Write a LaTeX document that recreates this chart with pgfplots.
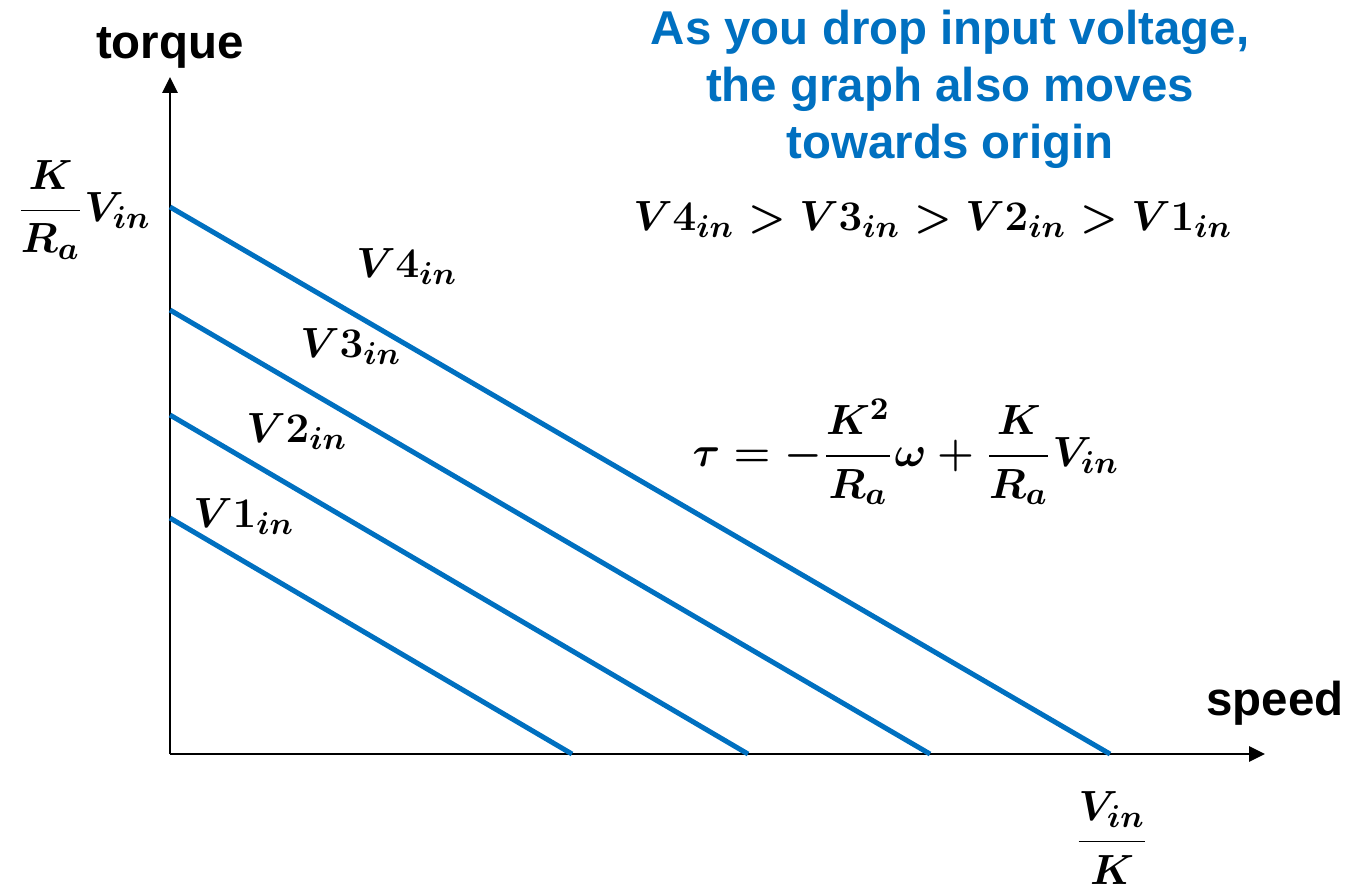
\documentclass[border=0pt]{standalone}
\usepackage[no-math]{fontspec}
\setmainfont{Liberation Sans}
\usepackage{pgfplots}
\pgfplotsset{compat=1.18}
\usetikzlibrary{arrows.meta}
\definecolor{lineblue}{RGB}{0,112,192}

\begin{document}
\begin{tikzpicture}[
  mathlbl/.style={inner sep=0pt, font=\fontsize{12.5}{15}\selectfont\boldmath},
  txtlbl/.style={inner sep=0pt, font=\fontsize{13.5}{16.2}\selectfont\bfseries},
]
\begin{axis}[
  x=0.1mm, y=0.1mm,
  xmin=0, xmax=1095, ymin=0, ymax=677,
  axis lines=left,
  ticks=none,
  clip=false,
  axis line style={line width=0.28mm, -{Triangle[length=1.6mm,width=1.5mm]}},
]
% page extent
\path (axis cs:-170,-137) rectangle (axis cs:1201,754);

% torque-speed lines for four input voltages
\addplot[lineblue, line width=0.5mm, no marks] coordinates {(0,547) (940,0)};
\addplot[lineblue, line width=0.5mm, no marks] coordinates {(0,444) (760,0)};
\addplot[lineblue, line width=0.5mm, no marks] coordinates {(0,339) (578,0)};
\addplot[lineblue, line width=0.5mm, no marks] coordinates {(0,236) (402,0)};

% axis names
\node[txtlbl] at (axis cs:0,706) {torque};
\node[txtlbl] at (axis cs:1105,51) {speed};

% explanatory note
\node[txtlbl, text=lineblue, align=center]
  at (axis cs:780,665) {As you drop input voltage,\\the graph also moves\\towards origin};

\node[mathlbl] at (axis cs:763,534) {$V4_{in}>V3_{in}>V2_{in}>V1_{in}$};
\node[mathlbl] at (axis cs:-86,544) {$\displaystyle\frac{K}{R_a}V_{in}$};
\node[mathlbl] at (axis cs:736,302) {$\displaystyle\tau=-\frac{K^2}{R_a}\omega+\frac{K}{R_a}V_{in}$};
\node[mathlbl] at (axis cs:942,-84) {$\displaystyle\frac{V_{in}}{K}$};
\node[mathlbl] at (axis cs:237,487) {$V4_{in}$};
\node[mathlbl] at (axis cs:181,407) {$V3_{in}$};
\node[mathlbl] at (axis cs:127,322) {$V2_{in}$};
\node[mathlbl] at (axis cs:74,237) {$V1_{in}$};
\end{axis}
\end{tikzpicture}
\end{document}
